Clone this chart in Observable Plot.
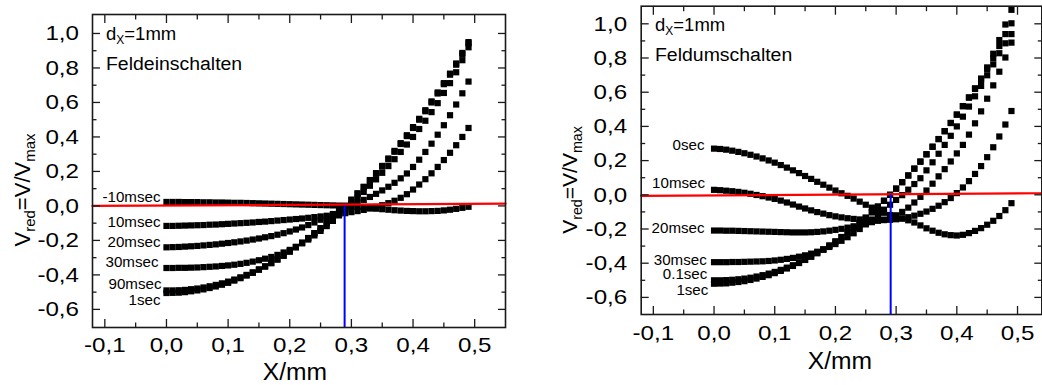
<!DOCTYPE html>
<html><head><meta charset="utf-8">
<script src="https://cdn.jsdelivr.net/npm/d3@7"></script>
<script src="https://cdn.jsdelivr.net/npm/@observablehq/plot@0.6"></script>
<style>
body{margin:0;background:#fff;}
#wrap{position:relative;width:1042px;height:385px;overflow:hidden;background:#fff;font-family:"Liberation Sans",Arial,sans-serif;}
#left{position:absolute;left:0;top:0;}
#right{position:absolute;left:520px;top:0;}
</style></head>
<body><div id="wrap"><div id="left"></div><div id="right"></div></div>
<script>
// ---------- data ----------
const xPos = [0.00,0.01,0.02,0.03,0.04,0.05,0.06,0.07,0.08,0.09,
  0.10,0.11,0.12,0.13,0.14,0.15,0.16,0.17,0.18,0.19,
  0.20,0.21,0.22,0.23,0.24,0.25,0.26,0.27,0.28,0.29,
  0.30,0.31,0.32,0.33,0.34,0.35,0.36,0.37,0.38,0.39,
  0.40,0.41,0.42,0.43,0.44,0.45,0.46,0.47,0.48,0.49];

// Feldeinschalten (left panel)
const leftSeries = ["-10msec","10msec","20msec","30msec","90msec","1sec"];
const onM10ms = [0.023,0.023,0.023,0.022,0.022,0.022,0.021,0.021,0.020,0.020,
  0.019,0.018,0.018,0.017,0.016,0.015,0.014,0.013,0.012,0.011,
  0.010,0.009,0.008,0.007,0.006,0.005,0.004,0.003,0.002,0.000,
  -0.003,-0.006,-0.009,-0.012,-0.016,-0.019,-0.022,-0.025,-0.027,-0.029,
  -0.030,-0.031,-0.031,-0.030,-0.029,-0.026,-0.022,-0.017,-0.011,-0.005];
const on10ms = [-0.116,-0.116,-0.115,-0.114,-0.113,-0.112,-0.111,-0.109,-0.108,-0.106,
  -0.104,-0.102,-0.100,-0.098,-0.096,-0.093,-0.091,-0.088,-0.085,-0.082,
  -0.079,-0.076,-0.073,-0.069,-0.065,-0.061,-0.057,-0.052,-0.047,-0.042,
  -0.036,-0.030,-0.023,-0.015,-0.006,0.004,0.016,0.030,0.047,0.068,
  0.095,0.124,0.155,0.189,0.226,0.266,0.308,0.352,0.400,0.452];
const on20ms = [-0.240,-0.239,-0.238,-0.236,-0.234,-0.232,-0.229,-0.226,-0.223,-0.219,
  -0.215,-0.211,-0.206,-0.201,-0.195,-0.189,-0.182,-0.175,-0.167,-0.158,
  -0.148,-0.137,-0.125,-0.111,-0.096,-0.080,-0.064,-0.047,-0.029,-0.012,
  0.004,0.019,0.035,0.052,0.070,0.090,0.111,0.134,0.160,0.188,
  0.226,0.268,0.313,0.361,0.413,0.468,0.526,0.588,0.653,0.721];
const on30ms = [-0.360,-0.360,-0.359,-0.359,-0.358,-0.357,-0.355,-0.353,-0.351,-0.348,
  -0.345,-0.341,-0.336,-0.330,-0.323,-0.315,-0.306,-0.296,-0.284,-0.270,
  -0.255,-0.237,-0.217,-0.195,-0.171,-0.145,-0.117,-0.087,-0.055,-0.022,
  0.012,0.046,0.081,0.117,0.154,0.192,0.231,0.271,0.313,0.356,
  0.400,0.446,0.494,0.544,0.596,0.655,0.712,0.775,0.845,0.920];
const on90ms = [-0.490,-0.490,-0.489,-0.487,-0.483,-0.479,-0.473,-0.466,-0.458,-0.449,
  -0.439,-0.427,-0.414,-0.400,-0.385,-0.368,-0.350,-0.331,-0.310,-0.288,
  -0.264,-0.239,-0.213,-0.186,-0.158,-0.129,-0.098,-0.066,-0.033,0.000,
  0.035,0.071,0.109,0.147,0.187,0.228,0.270,0.314,0.359,0.405,
  0.452,0.500,0.549,0.600,0.652,0.706,0.761,0.819,0.880,0.943];
const on1s = [-0.505,-0.504,-0.503,-0.500,-0.495,-0.490,-0.484,-0.476,-0.467,-0.457,
  -0.446,-0.433,-0.419,-0.404,-0.388,-0.370,-0.352,-0.332,-0.311,-0.289,
  -0.265,-0.240,-0.214,-0.187,-0.159,-0.130,-0.099,-0.067,-0.034,0.000,
  0.036,0.073,0.111,0.150,0.190,0.232,0.275,0.319,0.364,0.410,
  0.457,0.505,0.555,0.606,0.658,0.712,0.767,0.826,0.887,0.950];

// Feldumschalten (right panel)
const rightSeries = ["0sec","10msec","20msec","30msec","0.1sec","1sec"];
const sw0s = [0.270,0.268,0.264,0.258,0.251,0.243,0.234,0.224,0.213,0.201,
  0.188,0.174,0.159,0.143,0.127,0.110,0.093,0.076,0.059,0.042,
  0.025,0.009,-0.006,-0.022,-0.040,-0.058,-0.075,-0.091,-0.105,-0.118,
  -0.129,-0.139,-0.149,-0.162,-0.179,-0.196,-0.210,-0.222,-0.231,-0.236,
  -0.238,-0.234,-0.224,-0.211,-0.195,-0.175,-0.152,-0.124,-0.090,-0.049];
const sw10ms = [0.029,0.027,0.024,0.021,0.017,0.012,0.006,-0.001,-0.008,-0.016,
  -0.024,-0.034,-0.045,-0.057,-0.069,-0.080,-0.091,-0.101,-0.110,-0.119,
  -0.126,-0.132,-0.137,-0.141,-0.144,-0.146,-0.147,-0.148,-0.148,-0.146,
  -0.143,-0.138,-0.131,-0.122,-0.111,-0.098,-0.082,-0.064,-0.043,-0.019,
  0.010,0.043,0.080,0.122,0.168,0.220,0.278,0.341,0.411,0.490];
const sw20ms = [-0.209,-0.209,-0.210,-0.210,-0.211,-0.212,-0.213,-0.214,-0.215,-0.216,
  -0.217,-0.218,-0.219,-0.220,-0.220,-0.220,-0.219,-0.217,-0.214,-0.210,
  -0.205,-0.199,-0.192,-0.184,-0.176,-0.168,-0.160,-0.152,-0.145,-0.137,
  -0.120,-0.100,-0.075,-0.045,-0.012,0.025,0.065,0.108,0.150,0.195,
  0.242,0.292,0.352,0.418,0.488,0.562,0.640,0.720,0.803,0.890];
const sw30ms = [-0.394,-0.394,-0.394,-0.393,-0.393,-0.392,-0.391,-0.390,-0.389,-0.387,
  -0.384,-0.380,-0.375,-0.369,-0.362,-0.354,-0.344,-0.333,-0.320,-0.305,
  -0.288,-0.269,-0.248,-0.225,-0.200,-0.173,-0.145,-0.116,-0.087,-0.058,
  -0.030,-0.002,0.030,0.063,0.097,0.143,0.190,0.240,0.292,0.345,
  0.400,0.457,0.516,0.576,0.637,0.699,0.763,0.828,0.886,0.940];
const sw01s = [-0.500,-0.500,-0.499,-0.497,-0.494,-0.490,-0.485,-0.478,-0.470,-0.461,
  -0.451,-0.439,-0.426,-0.412,-0.396,-0.379,-0.361,-0.341,-0.320,-0.297,
  -0.273,-0.247,-0.221,-0.193,-0.164,-0.134,-0.102,-0.069,-0.035,0.000,
  0.036,0.074,0.113,0.153,0.194,0.237,0.281,0.326,0.372,0.420,
  0.469,0.518,0.568,0.619,0.672,0.735,0.800,0.870,0.940,1.003];
const sw1s = [-0.520,-0.519,-0.518,-0.514,-0.510,-0.505,-0.498,-0.490,-0.480,-0.470,
  -0.458,-0.445,-0.431,-0.416,-0.399,-0.381,-0.362,-0.341,-0.320,-0.297,
  -0.273,-0.247,-0.221,-0.193,-0.164,-0.134,-0.102,-0.069,-0.035,0.000,
  0.036,0.074,0.113,0.153,0.194,0.237,0.281,0.326,0.372,0.420,
  0.469,0.519,0.570,0.623,0.680,0.745,0.825,0.905,0.996,1.082];

// reference lines
const leftZeroX = [-0.12, 0.55], leftZeroY = [0.000, 0.013];
const rightZeroX = [-0.12, 0.54], rightZeroY = [-0.006, 0.009];
const leftCrossX = [0.289], rightCrossX = [0.291];

// axes
const xMajor = [-0.1,0.0,0.1,0.2,0.3,0.4,0.5];
const xMinor = [-0.05,0.05,0.15,0.25,0.35,0.45];
const yMajor = [-0.6,-0.4,-0.2,0.0,0.2,0.4,0.6,0.8,1.0];
const yMinor = [-0.5,-0.3,-0.1,0.1,0.3,0.5,0.7,0.9];
const xTitle = "X/mm";
const leftNote = "Feldeinschalten", rightNote = "Feldumschalten";

// ---------- drawing ----------
const fmt = d => d.toFixed(1).replace(".", ",");
const FONT = '"Liberation Sans", Arial, sans-serif';
const ink = "#1a1a1a";

// widen glyphs horizontally while keeping the text anchor in place
function stretch(node, f) {
  const w = node.getComputedTextLength();
  if (!(w > 0)) return;
  const before = node.getBBox();
  node.setAttribute("textLength", (w * f).toFixed(2));
  node.setAttribute("lengthAdjust", "spacingAndGlyphs");
  const after = node.getBBox();
  const anchor = getComputedStyle(node).textAnchor;
  let shift = 0;
  if (anchor === "end") shift = (after.x + after.width) - (before.x + before.width);
  else if (anchor === "middle") shift = (after.x + after.width / 2) - (before.x + before.width / 2);
  else shift = after.x - before.x;
  if (Math.abs(shift) > 0.05) {
    const t = node.getAttribute("transform") || "";
    node.setAttribute("transform", (t + ` translate(${(-shift).toFixed(2)},0)`).trim());
  }
}

function panel(cfg) {
  const rows = cfg.names.flatMap((name, k) => cfg.values[k].map((v, i) => ({name, x: xPos[i], y: v})));
  const firsts = cfg.names.map((name, k) => ({name, x: xPos[0], y: cfg.values[k][0]}));
  const tickStyle = {stroke: ink, strokeWidth: 1.3, tickFormat: () => "", label: null};
  const marks = [
    Plot.dot(rows, {x: "x", y: "y", symbol: "square", r: 3.5, fill: "#000", stroke: "none"}),
    Plot.line(cfg.zeroX.map((x, i) => [x, cfg.zeroY[i]]), {stroke: "#ff0000", strokeWidth: 2.2}),
    Plot.ruleX(cfg.crossX, {y1: 0, y2: cfg.yDomain[0], stroke: "#0000ff", strokeWidth: 2}),
    Plot.frame({stroke: ink, strokeWidth: 1.6}),
    ...["left", "right"].flatMap(a => [
      Plot.axisY(yMajor, {anchor: a, tickSize: -8, ...tickStyle}),
      Plot.axisY(yMinor, {anchor: a, tickSize: -4.5, ...tickStyle})
    ]),
    ...["top", "bottom"].flatMap(a => [
      Plot.axisX(xMajor, {anchor: a, tickSize: -8, ...tickStyle}),
      Plot.axisX(xMinor, {anchor: a, tickSize: -4.5, ...tickStyle})
    ]),
    Plot.axisY(yMajor, {anchor: "left", tickSize: 0, tickPadding: cfg.padY, tickFormat: fmt, label: null, fontSize: 21, fill: "#000"}),
    Plot.axisX(xMajor, {anchor: "bottom", tickSize: 0, tickPadding: cfg.padX, tickFormat: fmt, label: null, fontSize: 21, fill: "#000"}),
    ...firsts.map(d => Plot.text([d], {x: "x", y: "y", text: "name", textAnchor: "end",
      dx: cfg.labelOff[d.name][0], dy: cfg.labelOff[d.name][1], fontSize: 14, fill: "#000"}))
  ];
  const svg = Plot.plot({
    width: cfg.width, height: 385,
    marginLeft: cfg.m[0], marginRight: cfg.m[1], marginTop: cfg.m[2], marginBottom: cfg.m[3],
    x: {type: "linear", domain: cfg.xDomain},
    y: {type: "linear", domain: cfg.yDomain},
    style: {fontFamily: FONT, background: "white", overflow: "visible", color: "#000"},
    marks
  });
  document.getElementById(cfg.id).appendChild(svg);
  const s = d3.select(svg);
  s.selectAll('g[aria-label="y-axis tick label"] text, g[aria-label="x-axis tick label"] text').each(function(){ stretch(this, 1.15); });
  s.selectAll('g[aria-label="text"] text').each(function(){ stretch(this, 1.08); });
  // x title
  const xt = s.append("text").attr("x", cfg.xTitle[0]).attr("y", cfg.xTitle[1]).attr("text-anchor", "middle")
    .attr("font-size", 23).attr("font-family", FONT).attr("fill", "#000").text(xTitle);
  stretch(xt.node(), 1.07);
  // y title: V_red = V / V_max
  const yt = s.append("text").attr("transform", `translate(${cfg.yTitle[0]},${cfg.yTitle[1]}) rotate(-90)`)
    .attr("text-anchor", "middle").attr("font-size", cfg.yTitleSize).attr("font-family", FONT).attr("fill", "#000");
  yt.append("tspan").text("V");
  yt.append("tspan").attr("font-size", cfg.yTitleSize * 0.68).attr("dy", 5).text("red");
  yt.append("tspan").attr("dy", -5).text("=V/V");
  yt.append("tspan").attr("font-size", cfg.yTitleSize * 0.68).attr("dy", 5).text("max");
  // notes
  const n1 = s.append("text").attr("x", cfg.note[0]).attr("y", cfg.note[1]).attr("font-size", 18.5)
    .attr("text-anchor", "start").attr("font-family", FONT).attr("fill", "#000");
  n1.append("tspan").text("d");
  n1.append("tspan").attr("font-size", 12).attr("dy", 4).text("X");
  n1.append("tspan").attr("dy", -4).text("=1mm");
  const n2 = s.append("text").attr("x", cfg.note[0]).attr("y", cfg.note[2]).attr("font-size", 18)
    .attr("text-anchor", "start").attr("font-family", FONT).attr("fill", "#000").text(cfg.noteText);
  stretch(n2.node(), 1.08);
}

panel({
  id: "left", width: 520, m: [92, 15, 14, 58],
  xDomain: [-0.12, 0.55], yDomain: [-0.705, 1.11],
  names: leftSeries, values: [onM10ms, on10ms, on20ms, on30ms, on90ms, on1s],
  zeroX: leftZeroX, zeroY: leftZeroY, crossX: leftCrossX,
  padY: 13.5, padX: 10,
  labelOff: {"-10msec": [-6, -4.8], "10msec": [-6, -3], "20msec": [-6, -5], "30msec": [-8, -5.8], "90msec": [-5, -5.6], "1sec": [-6, 7.5]},
  xTitle: [295, 380], yTitle: [30, 190], yTitleSize: 22,
  note: [106, 39.5, 69.5], noteText: leftNote
});
panel({
  id: "right", width: 522, m: [120.7, 0.7, 5.7, 71],
  xDomain: [-0.12, 0.54], yDomain: [-0.70, 1.103],
  names: rightSeries, values: [sw0s, sw10ms, sw20ms, sw30ms, sw01s, sw1s],
  zeroX: rightZeroX, zeroY: rightZeroY, crossX: rightCrossX,
  padY: 14, padX: 11,
  labelOff: {"0sec": [-9.5, -3.1], "10msec": [-9, -6], "20msec": [-9.5, -1.7], "30msec": [-7.3, -1.7], "0.1sec": [-6.7, -5.5], "1sec": [-5.7, 6.8]},
  xTitle: [320, 368.5], yTitle: [57, 180], yTitleSize: 21,
  note: [135, 31, 61], noteText: rightNote
});
</script>
</body></html>
